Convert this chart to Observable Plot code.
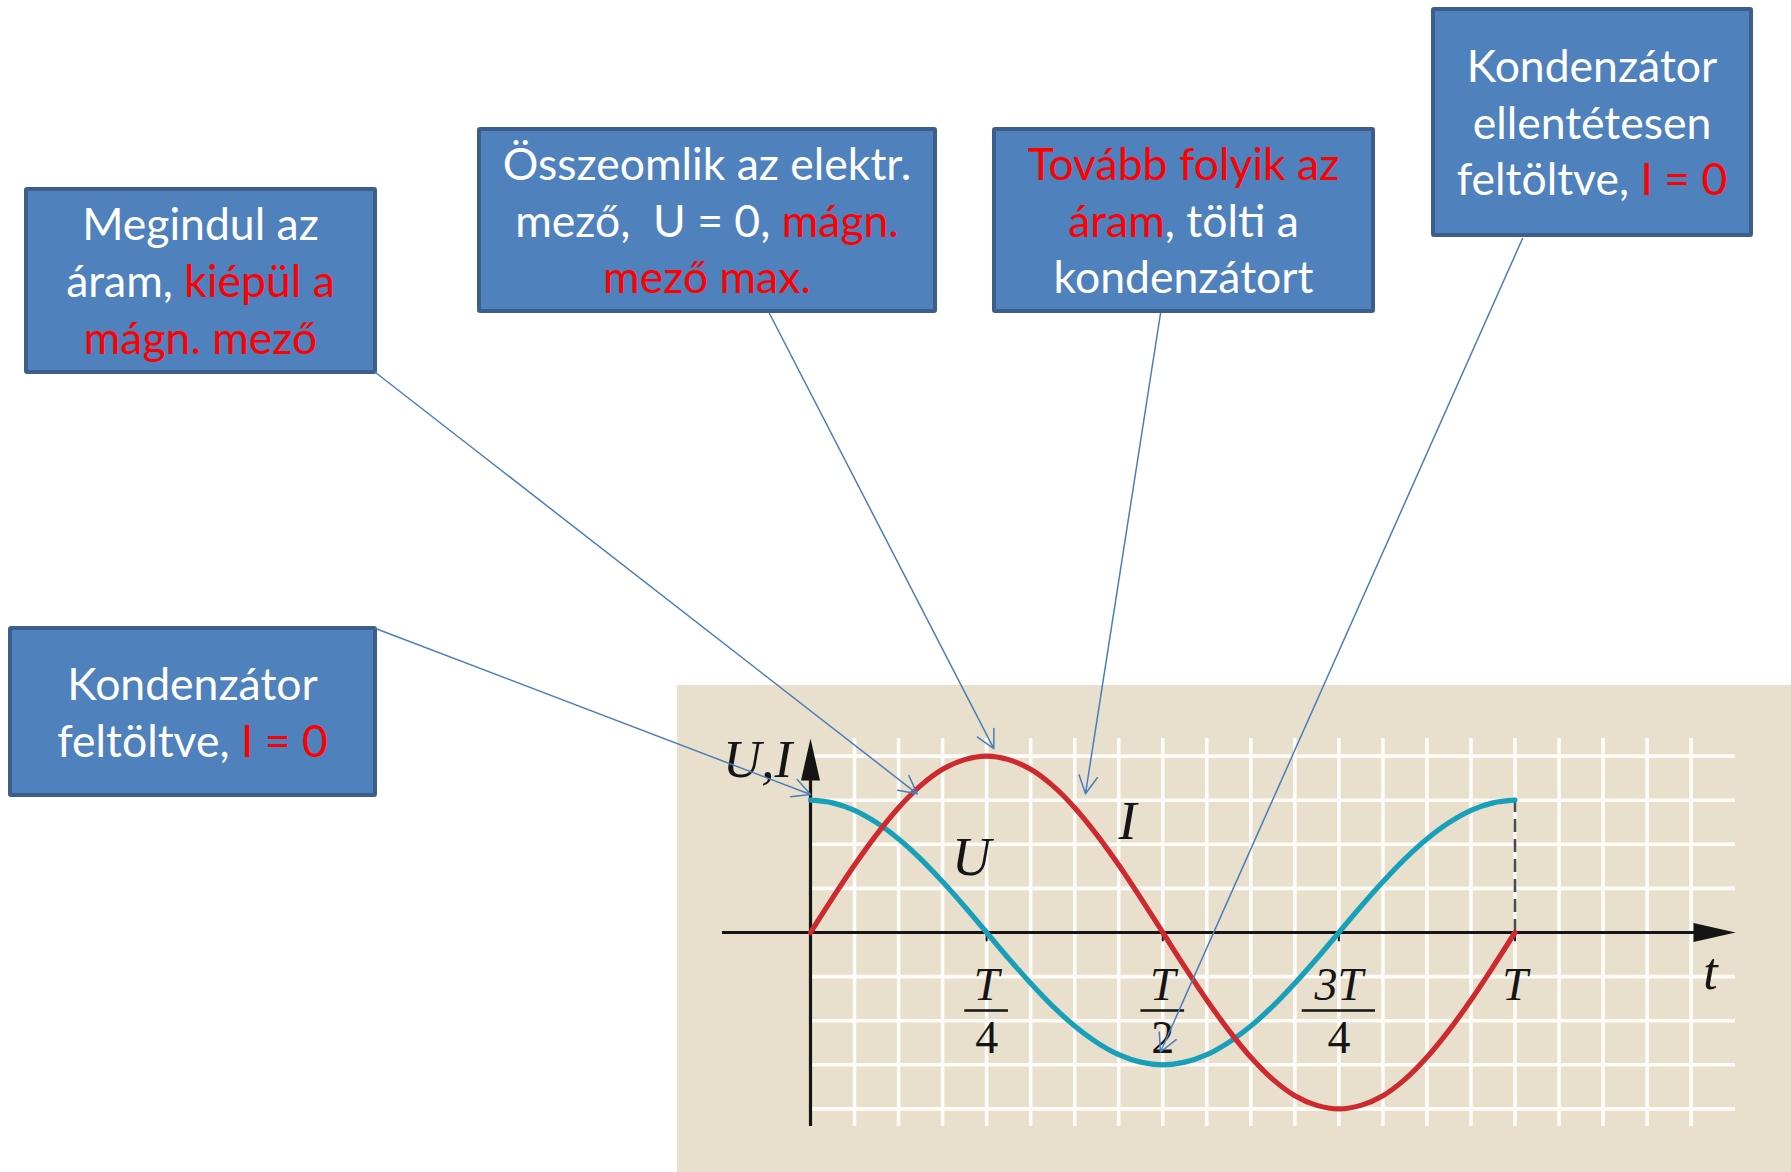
<!DOCTYPE html>
<html>
<head>
<meta charset="utf-8">
<script src="https://cdn.jsdelivr.net/npm/d3@7"></script>
<script src="https://cdn.jsdelivr.net/npm/@observablehq/plot@0.6"></script>
<style>
  html, body { margin: 0; padding: 0; background: #fff; }
  #stage { position: relative; width: 1791px; height: 1172px; overflow: hidden; background: #fff; }
  #panel { position: absolute; left: 677px; top: 685px; width: 1114px; height: 487px; background: #e8dfcc; }
  .box {
    position: absolute; box-sizing: border-box;
    border: 4.5px solid #3b5e8c; border-radius: 3px; background: #4f81bd;
    display: flex; align-items: center; justify-content: center; text-align: center;
    color: #ffffff; font-family: Lato, "Open Sans", sans-serif; font-size: 44.5px; line-height: 56.7px;
  }
  .box em { font-style: normal; color: #ff0000; }
  #chart { position: absolute; left: 0; top: 0; }
</style>
</head>
<body>
<div id="stage">
  <div id="panel"></div>
  <div id="chart"></div>
</div>
<script>
// ---- data (time in units of the period T) ----
const tValues = [0, 0.03125, 0.0625, 0.09375, 0.125, 0.15625, 0.1875, 0.21875, 0.25,
  0.28125, 0.3125, 0.34375, 0.375, 0.40625, 0.4375, 0.46875, 0.5,
  0.53125, 0.5625, 0.59375, 0.625, 0.65625, 0.6875, 0.71875, 0.75,
  0.78125, 0.8125, 0.84375, 0.875, 0.90625, 0.9375, 0.96875, 1];
const uValues = [3.00, 2.94, 2.77, 2.49, 2.12, 1.67, 1.15, 0.59, 0,
  -0.59, -1.15, -1.67, -2.12, -2.49, -2.77, -2.94, -3.00,
  -2.94, -2.77, -2.49, -2.12, -1.67, -1.15, -0.59, 0,
  0.59, 1.15, 1.67, 2.12, 2.49, 2.77, 2.94, 3.00];
const iValues = [0, 0.78, 1.53, 2.22, 2.83, 3.33, 3.70, 3.92, 4.00,
  3.92, 3.70, 3.33, 2.83, 2.22, 1.53, 0.78, 0,
  -0.78, -1.53, -2.22, -2.83, -3.33, -3.70, -3.92, -4.00,
  -3.92, -3.70, -3.33, -2.83, -2.22, -1.53, -0.78, 0];

const tickValues = [0.25, 0.5, 0.75, 1];
const tickNumerators = ["T", "T", "3T", "T"];
const tickDenominators = ["4", "2", "4", ""];

const gridT = [0.0625, 0.125, 0.1875, 0.25, 0.3125, 0.375, 0.4375, 0.5, 0.5625, 0.625,
  0.6875, 0.75, 0.8125, 0.875, 0.9375, 1, 1.0625, 1.125, 1.1875, 1.25];
const gridV = [-4, -3, -2, -1, 1, 2, 3, 4];

const seriesLabels = ["U", "I"];
const axisLabels = ["U,I", "t"];

// annotation texts (<em> = highlighted in red)
const boxTexts = [
  "Megindul az<br>áram, <em>kiépül a</em><br><em>mágn. mező</em>",
  "Összeomlik az elektr.<br>mező,&nbsp; U = 0, <em>mágn.</em><br><em>mező max.</em>",
  "<em>Tovább folyik az</em><br><em>áram</em>, tölti a<br>kondenzátort",
  "Kondenzátor<br>ellentétesen<br>feltöltve, <em>I = 0</em>",
  "Kondenzátor<br>feltöltve, <em>I = 0</em>"
];
// points on the curves the annotations point to (t in T, value)
const targetT = [0.1515, 0.2602, 0.3903, 0.4968, 0];
const targetV = [3.145, 4.17, 3.145, -2.71, 3.13];

// ---- layout ----
const W = 1791, H = 1172;
const xDomain = [0, 1], xRange = [810, 1514.5];
const yDomain = [-4, 4], yRange = [1108.4, 755.6];
const invX = px => xDomain[0] + (px - xRange[0]) * (xDomain[1] - xDomain[0]) / (xRange[1] - xRange[0]);
const invY = py => yDomain[0] + (py - yRange[0]) * (yDomain[1] - yDomain[0]) / (yRange[1] - yRange[0]);

// box outer rectangles [left, top, width, height] and arrow tail anchor [x, y]
const boxLayout = [
  {rect: [24, 187, 353, 187], tail: [375, 372]},
  {rect: [477, 127, 460, 186], tail: [769, 313]},
  {rect: [992, 127, 383, 186], tail: [1160, 313]},
  {rect: [1431, 7, 322, 230], tail: [1522, 238]},
  {rect: [8, 626, 369, 171], tail: [375, 628]}
];

const stage = document.getElementById("stage");
boxTexts.forEach((html, i) => {
  const [l, t, w, h] = boxLayout[i].rect;
  const d = document.createElement("div");
  d.className = "box";
  d.style.left = l + "px"; d.style.top = t + "px";
  d.style.width = w + "px"; d.style.height = h + "px";
  d.innerHTML = "<div>" + html + "</div>";
  stage.insertBefore(d, document.getElementById("chart"));
});

const curveData = tValues.map((t, i) => ({t, u: uValues[i], i: iValues[i]}));
const fracs = tickValues.map((t, k) => ({t, num: tickNumerators[k], den: tickDenominators[k]}));
const arrows = boxTexts.map((_, k) => ({
  x1: invX(boxLayout[k].tail[0]), y1: invY(boxLayout[k].tail[1]),
  x2: targetT[k], y2: targetV[k]
}));

const yTop = invY(738), yBottom = invY(1126), xLeft = invX(722), xRight = invX(1735);
const arrowUp = {draw(ctx) { ctx.moveTo(0, 0); ctx.lineTo(9.5, 42); ctx.lineTo(-9.5, 42); ctx.closePath(); }};
const arrowRight = {draw(ctx) { ctx.moveTo(0, 0); ctx.lineTo(-42, -9.5); ctx.lineTo(-42, 9.5); ctx.closePath(); }};

const serif = '"Liberation Serif", "DejaVu Serif", serif';
const ink = "#151515";

const plot = Plot.plot({
  width: W, height: H,
  marginTop: 0, marginRight: 0, marginBottom: 0, marginLeft: 0,
  x: {domain: xDomain, range: xRange, axis: null},
  y: {domain: yDomain, range: yRange, axis: null},
  style: {background: "transparent", overflow: "visible"},
  marks: [
    // grid
    Plot.ruleX(gridT, {x: d => d, y1: yBottom, y2: yTop, stroke: "#fefcf8", strokeWidth: 3.6}),
    Plot.ruleY(gridV, {y: d => d, x1: 0, x2: xRight, stroke: "#fefcf8", strokeWidth: 3.6}),
    // axes
    Plot.ruleY([0], {y: d => d, x1: xLeft, x2: xRight - 0.04, stroke: ink, strokeWidth: 3.2}),
    Plot.ruleX([0], {x: d => d, y1: yBottom, y2: yTop - 0.6, stroke: ink, strokeWidth: 3.2}),
    Plot.dot([0], {x: () => 0, y: () => yTop, symbol: arrowUp, fill: ink}),
    Plot.dot([0], {x: () => xRight, y: () => 0, symbol: arrowRight, fill: ink}),
    // ticks
    Plot.ruleX(tickValues, {x: d => d, y1: 0, y2: -0.21, stroke: ink, strokeWidth: 2}),
    // dashed line at T
    Plot.ruleX([1], {x: d => d, y1: 0, y2: uValues[uValues.length - 1], stroke: "#4a4a4a", strokeWidth: 2.6, strokeDasharray: "13,7"}),
    // curves
    Plot.line(curveData, {x: "t", y: "u", stroke: "#18a0ba", strokeWidth: 5.2, curve: "catmull-rom"}),
    Plot.line(curveData, {x: "t", y: "i", stroke: "#cc2a2e", strokeWidth: 5.2, curve: "catmull-rom"}),
    // tick labels (fractions)
    Plot.text(fracs, {x: "t", y: () => 0, text: "num", dy: 67, lineAnchor: "bottom", textAnchor: "middle",
      fontFamily: serif, fontStyle: "italic", fontSize: 46, fill: ink}),
    Plot.text(fracs.filter(d => d.den), {x: "t", y: () => 0, text: "den", dy: 120, lineAnchor: "bottom", textAnchor: "middle",
      fontFamily: serif, fontSize: 46, fill: ink}),
    Plot.ruleY(fracs.filter(d => d.den), {y: () => 0, dy: 78,
      x1: d => d.t - (d.num.length > 1 ? 0.052 : 0.031), x2: d => d.t + (d.num.length > 1 ? 0.052 : 0.031),
      stroke: ink, strokeWidth: 2.6}),
    // series labels
    Plot.text([seriesLabels[0]], {x: () => 0.2285, y: () => 1.293, text: d => d, lineAnchor: "bottom", textAnchor: "middle",
      fontFamily: serif, fontStyle: "italic", fontSize: 54, fill: ink}),
    Plot.text([seriesLabels[1]], {x: () => 0.45, y: () => 2.13, text: d => d, lineAnchor: "bottom", textAnchor: "middle",
      fontFamily: serif, fontStyle: "italic", fontSize: 54, fill: ink}),
    // axis labels
    Plot.text([axisLabels[0]], {x: () => -0.075, y: () => 3.515, text: d => d, lineAnchor: "bottom", textAnchor: "middle",
      fontFamily: serif, fontStyle: "italic", fontSize: 53, fill: ink}),
    Plot.text([axisLabels[1]], {x: () => 1.2775, y: () => -1.27, text: d => d, lineAnchor: "bottom", textAnchor: "middle",
      fontFamily: serif, fontStyle: "italic", fontSize: 52, fill: ink}),
    // annotation connectors
    Plot.arrow(arrows, {x1: "x1", y1: "y1", x2: "x2", y2: "y2", stroke: "#4a7ebb", strokeWidth: 1.5,
      headLength: 20, headAngle: 55})
  ]
});
document.getElementById("chart").appendChild(plot);
</script>
</body>
</html>
